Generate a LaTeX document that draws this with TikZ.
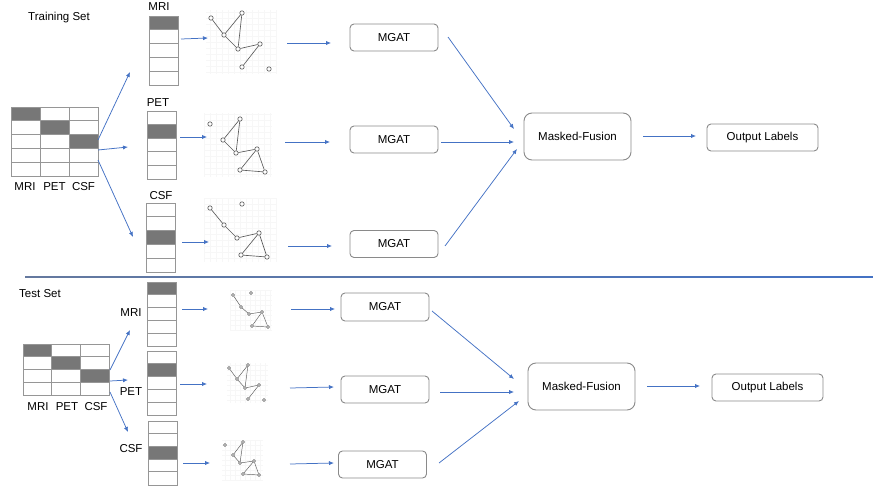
\documentclass[tikz,border=0pt]{standalone}
\usepackage{fontspec}
\setmainfont{Liberation Sans}
\usetikzlibrary{arrows.meta}
\definecolor{arr}{HTML}{4472C4}
\definecolor{boxline}{HTML}{8A8A8A}
\definecolor{cellline}{HTML}{969696}
\definecolor{cellfill}{HTML}{777777}
\definecolor{edgec}{HTML}{5A5A5A}
\definecolor{gridc}{HTML}{F7F7F7}

\newcommand{\featcol}[5]{% name, x0, y0, dark row, row height
  \fill[cellfill] (#2,{#3+#4*#5}) rectangle ++(29,#5);
  \foreach \r in {1,...,4} \draw[cellline,line width=1pt] (#2,{#3+\r*#5}) -- ++(29,0);
  \node[draw=cellline, line width=1pt, inner sep=0pt, minimum width=29pt, minimum height={5*#5pt}, anchor=north west] (#1) at (#2,#3) {};
}
\newcommand{\datatable}[6]{% name, x0, y0, col width, row height, rows
  \foreach \k in {0,1,2} \fill[cellfill] ({#2+\k*#4},{#3+\k*#5}) rectangle ++(#4,#5);
  \pgfmathtruncatemacro{\nrows}{#6-1}
  \foreach \r in {1,...,\nrows} \draw[cellline, line width=1pt] (#2,{#3+\r*#5}) -- ++({3*#4},0);
  \foreach \c in {1,2} \draw[cellline, line width=1pt] ({#2+\c*#4},#3) -- ++(0,{#6*#5});
  \node[draw=cellline, line width=1pt, inner sep=0pt, minimum width={3*#4pt}, minimum height={#6*#5pt}, anchor=north west] (#1) at (#2,#3) {};
}
\newcommand{\flowarr}[5]{%
  \coordinate (#1s) at (#2,#3); \coordinate (#1e) at (#4,#5);
  \draw[flow] (#1s) -- (#1e);
}

\begin{document}
\begin{tikzpicture}[x=1pt,y=-1pt,
  lbl/.style={font=\fontsize{11.5}{13}\selectfont, text=black, inner sep=0pt},
  box/.style={draw=boxline, line width=0.9pt, rounded corners=4pt, fill=white,
    font=\fontsize{11.5}{13}\selectfont, inner sep=0pt, minimum width=88pt, minimum height=27pt},
  fusebox/.style={box, rounded corners=8pt, minimum width=107pt, minimum height=47pt},
  outbox/.style={box, minimum width=111pt, minimum height=27pt},
  flow/.style={draw=arr, line width=0.75pt, -{Latex[length=5pt,width=4.2pt]}},
  gnode/.style={circle, draw=edgec, fill=white, line width=0.6pt, inner sep=0pt, minimum size=4.4pt},
  snode/.style={gnode, line width=0.45pt, minimum size=3pt},
  gedge/.style={draw=edgec, line width=0.65pt},
  sedge/.style={draw=edgec, line width=0.45pt},
  faint/.style={draw=gridc, line width=0.3pt}
]
\useasboundingbox (0,0) rectangle (873,487);

% ---------------- Training set ----------------
\node[lbl] (trainlbl) at (59,18) {Training Set};
\datatable{ttab}{11}{107}{29}{13.8}{5}
\node[lbl] (tmri) at (25,187) {MRI};
\node[lbl] (tpet) at (54.5,187) {PET};
\node[lbl] (tcsf) at (83.5,187) {CSF};

\featcol{tcolA}{149}{16}{0}{13.8}
\featcol{tcolB}{147}{111}{1}{13.6}
\featcol{tcolC}{146}{203}{2}{13.8}
\node[lbl] (tlA) at (159,7) {MRI};
\node[lbl] (tlB) at (158,103) {PET};
\node[lbl] (tlC) at (161,196) {CSF};

% faint grids behind graphs
\draw[faint, step=6pt] (206,10) grid (277,74);
\draw[faint, step=6pt] (204,113) grid (272,177);
\draw[faint, step=6pt] (204,198) grid (277,262);

% graph MRI
\node[gnode] (a1) at (211,18) {};
\node[gnode] (a2) at (242,13) {};
\node[gnode] (a3) at (224,35) {};
\node[gnode] (a4) at (238,49) {};
\node[gnode] (a5) at (260,44) {};
\node[gnode] (a6) at (242,67) {};
\node[gnode] (a7) at (269,69) {};
\draw[gedge] (a1)--(a3) (a3)--(a2) (a3)--(a4) (a2)--(a4) (a4)--(a5) (a5)--(a6);
% graph PET
\node[gnode] (b1) at (210,124) {};
\node[gnode] (b2) at (240,119) {};
\node[gnode] (b3) at (223,140) {};
\node[gnode] (b4) at (236,153) {};
\node[gnode] (b5) at (257,149) {};
\node[gnode] (b6) at (240,170) {};
\node[gnode] (b7) at (265,172) {};
\draw[gedge] (b3)--(b2) (b2)--(b4) (b3)--(b4) (b4)--(b5) (b5)--(b6) (b5)--(b7) (b6)--(b7);
% graph CSF
\node[gnode] (c1) at (242,204) {};
\node[gnode] (c2) at (210,208) {};
\node[gnode] (c3) at (224,225) {};
\node[gnode] (c4) at (237,238) {};
\node[gnode] (c5) at (259,233) {};
\node[gnode] (c6) at (241,255) {};
\node[gnode] (c7) at (267,257) {};
\draw[gedge] (c2)--(c3) (c3)--(c4) (c4)--(c5) (c5)--(c6) (c5)--(c7) (c6)--(c7);

\node[box] (mgA) at (394,37.5) {MGAT};
\node[box] (mgB) at (394,139.5) {MGAT};
\node[box] (mgC) at (394,244) {MGAT};
\node[fusebox] (fuse1) at (577.5,136.5) {Masked-Fusion};
\node[outbox] (out1) at (762.5,137.5) {Output Labels};

\flowarr{ta}{98}{140}{130}{72}
\flowarr{tb}{98}{150}{128}{147}
\flowarr{tc}{98}{160}{133}{237}
\flowarr{td}{181}{39}{208}{38}
\flowarr{te}{180}{137}{207}{137}
\flowarr{tf}{182}{242}{209}{242}
\flowarr{tg}{287}{43}{331}{43}
\flowarr{th}{285}{142}{330}{142}
\flowarr{ti}{288}{246}{332}{246}
\flowarr{tj}{448}{37}{514}{129}
\flowarr{tk}{441}{142}{514}{142}
\flowarr{tl}{445}{246}{517}{149}
\flowarr{tm}{643}{136}{696}{136}

% separator
\coordinate (sepL) at (25,277);
\coordinate (sepR) at (873,277);
\shade[left color=arr!45!gray, right color=arr] (25,276.6) rectangle (873,277.6);

% ---------------- Test set ----------------
\node[lbl] (testlbl) at (40,294) {Test Set};
\datatable{btab}{23}{344}{28.7}{12.75}{4}
\node[lbl] (bmri) at (38,407) {MRI};
\node[lbl] (bpet) at (67,407) {PET};
\node[lbl] (bcsf) at (96,407) {CSF};

\featcol{bcolA}{147}{282}{0}{12.8}
\featcol{bcolB}{147}{351}{1}{12.8}
\featcol{bcolC}{148}{421}{2}{12.7}
\node[lbl] (blA) at (131,313) {MRI};
\node[lbl] (blB) at (131,392) {PET};
\node[lbl] (blC) at (131,449) {CSF};

\draw[faint, step=5pt] (230,290) grid (272,330);
\draw[faint, step=5pt] (227,363) grid (268,403);
\draw[faint, step=5pt] (222,440) grid (263,480);

% small graph MRI
\node[snode] (d1) at (233,295) {};
\node[snode] (d2) at (251,293) {};
\node[snode] (d3) at (241,307) {};
\node[snode] (d4) at (249,314) {};
\node[snode] (d5) at (262,312) {};
\node[snode] (d6) at (252,326) {};
\node[snode] (d7) at (268,327) {};
\draw[sedge] (d1)--(d3) (d3)--(d4) (d4)--(d5) (d5)--(d6) (d5)--(d7) (d6)--(d7);
% small graph PET
\node[snode] (e1) at (229,368) {};
\node[snode] (e2) at (248,365) {};
\node[snode] (e3) at (237,379) {};
\node[snode] (e4) at (245,388) {};
\node[snode] (e5) at (259,385) {};
\node[snode] (e6) at (248,399) {};
\node[snode] (e7) at (264,400) {};
\draw[sedge] (e1)--(e3) (e3)--(e2) (e2)--(e4) (e3)--(e4) (e4)--(e5) (e5)--(e6);
% small graph CSF
\node[snode] (f1) at (225,445) {};
\node[snode] (f2) at (243,442) {};
\node[snode] (f3) at (233,455) {};
\node[snode] (f4) at (240,463) {};
\node[snode] (f5) at (254,461) {};
\node[snode] (f6) at (243,474) {};
\node[snode] (f7) at (259,475) {};
\draw[sedge] (f3)--(f2) (f2)--(f4) (f3)--(f4) (f4)--(f5) (f5)--(f6) (f5)--(f7) (f6)--(f7);

\node[box, minimum height=28pt] (mgD) at (385,307) {MGAT};
\node[box] (mgE) at (385,389.5) {MGAT};
\node[box] (mgF) at (382.5,464.5) {MGAT};
\node[fusebox] (fuse2) at (581.5,386.5) {Masked-Fusion};
\node[outbox] (out2) at (767.5,387.5) {Output Labels};

\flowarr{ba}{110}{370}{130}{330}
\flowarr{bb}{110}{381}{128}{380}
\flowarr{bc}{110}{392}{128}{432}
\flowarr{bd}{182}{309}{208}{309}
\flowarr{be}{180}{384}{207}{384}
\flowarr{bf}{183}{463}{210}{463}
\flowarr{bg}{291}{309}{335}{309}
\flowarr{bh}{290}{388}{334}{387}
\flowarr{bi}{290}{464}{334}{463}
\flowarr{bj}{432}{311}{514}{379}
\flowarr{bk}{440}{392}{514}{392}
\flowarr{bl}{439}{463}{519}{401}
\flowarr{bm}{647}{386}{700}{386}
\end{tikzpicture}
\end{document}
